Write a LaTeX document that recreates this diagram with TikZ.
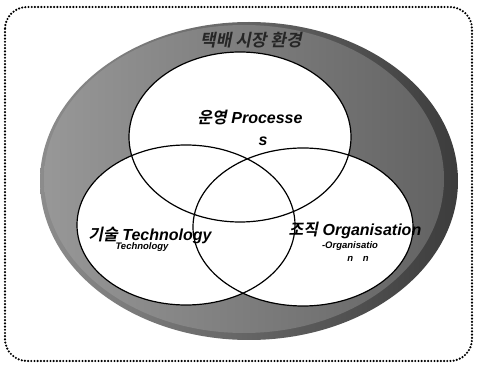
\documentclass[tikz,border=0pt]{standalone}
\usepackage{fontspec}
\setmainfont{Liberation Sans}
\newfontfamily\kr{Noto Sans CJK KR}[BoldFont=Noto Sans CJK KR Bold, BoldItalicFont=Noto Sans CJK KR Bold, BoldItalicFeatures={FakeSlant=0.2}, ItalicFeatures={FakeSlant=0.2}]
\usetikzlibrary{positioning, shapes.geometric, backgrounds}
\definecolor{ringdark}{RGB}{60,60,60}
\definecolor{ringlight}{RGB}{140,140,140}
\tikzset{
    frame/.style={draw=black, line width=2.4pt, dash pattern=on 0pt off 3.2pt, line cap=round, rounded corners=22pt},
    vennfill/.style={fill=white},
    venndraw/.style={draw=black, line width=1.2pt},
    biglbl/.style={font=\fontsize{16}{17}\selectfont\bfseries\itshape, text=black, inner sep=0pt, align=center},
    smalllbl/.style={font=\fontsize{9.5}{10}\selectfont\bfseries\itshape, text=black, inner sep=0pt},
    ringlbl/.style={font=\fontsize{17}{18}\selectfont\kr\bfseries\itshape, text=black!85, inner sep=0pt}
}

\begin{document}
\begin{tikzpicture}[x=1pt, y=-1pt]
    \useasboundingbox (0,0) rectangle (477,366);
    % Dotted frame
    \draw[frame] (5,7) rectangle (472,361);

    % Outer ring
    \shade[left color=ringlight, right color=ringdark] (249,181) ellipse [x radius=209pt, y radius=159pt];
    \shade[left color=ringlight!90, right color=ringdark!80!white] (244,179) ellipse [x radius=200pt, y radius=154pt];
    \node[ringlbl] (env) at (251,40) {택배 시장 환경};

    % Venn circles
    \foreach \cx/\cy/\rx/\ry in {240/137/111/85, 186/225/109/80, 303/227/110/79}
        \fill[vennfill] (\cx,\cy) ellipse [x radius=\rx pt, y radius=\ry pt];
    \foreach \cx/\cy/\rx/\ry in {240/137/111/85, 186/225/109/80, 303/227/110/79}
        \draw[venndraw] (\cx,\cy) ellipse [x radius=\rx pt, y radius=\ry pt];

    % Labels
    \node[biglbl] (proc) at (250,118) {{\kr 운영} Processe};
    \node[biglbl] (procb) at (263,141) {s};
    \node[biglbl] (tech) at (150,235) {{\kr 기술} Technology};
    \node[smalllbl] (techb) at (142,247) {Technology};
    \node[biglbl] (org) at (355,230) {{\kr 조직} Organisation};
    \node[smalllbl] (orgb) at (350,246) {-Organisatio};
    \node[smalllbl] (orgc) at (358,259) {n\quad n};
\end{tikzpicture}
\end{document}
